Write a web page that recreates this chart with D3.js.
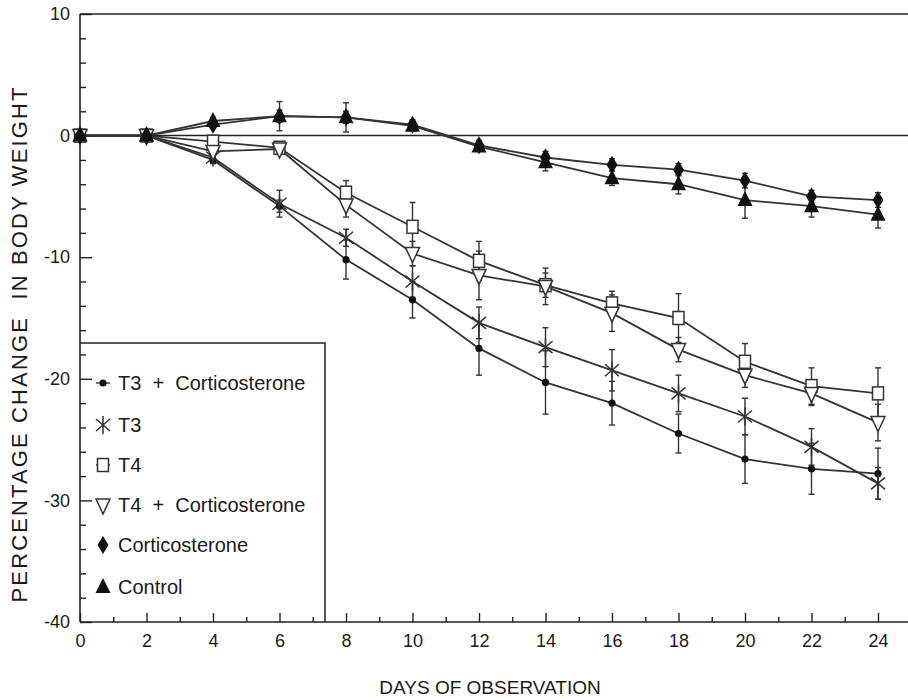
<!DOCTYPE html>
<html>
<head>
<meta charset="utf-8">
<script src="https://cdn.jsdelivr.net/npm/d3@7"></script>
<style>
  body { margin: 0; background: #fff; }
  svg { display: block; font-family: "Liberation Sans", Arial, sans-serif; }
  .axis text { font-size: 18px; fill: #1a1a1a; }
  .axis line { stroke: #222; stroke-width: 1.4; }
  .axis path { display: none; }
</style>
</head>
<body>
<svg width="908" height="699"></svg>
<script>
"use strict";

// days of observation
var days = [0, 2, 4, 6, 8, 10, 12, 14, 16, 18, 20, 22, 24];

// percentage change in body weight, per group
var t3Cort  = [0, 0, -2.0, -5.8, -10.2, -13.5, -17.5, -20.3, -22.0, -24.5, -26.6, -27.4, -27.8];
var t3      = [0, 0, -1.8, -5.6, -8.4, -12.0, -15.4, -17.4, -19.3, -21.2, -23.1, -25.6, -28.6];
var t4      = [0, 0, -0.5, -1.0, -4.7, -7.5, -10.3, -12.3, -13.8, -15.0, -18.6, -20.6, -21.2];
var t4Cort  = [0, 0, -1.3, -1.1, -5.7, -9.7, -11.5, -12.4, -14.6, -17.6, -19.7, -21.2, -23.6];
var cort    = [0, 0, 0.9, 1.6, 1.5, 0.9, -0.8, -1.8, -2.4, -2.8, -3.7, -5.0, -5.3];
var control = [0, 0, 1.2, 1.6, 1.5, 0.8, -0.9, -2.2, -3.5, -4.0, -5.3, -5.8, -6.5];

// error bars (+/-)
var t3CortErr  = [0, 0, 0.3, 0.5, 1.6, 1.5, 2.2, 2.6, 1.8, 1.6, 2.0, 2.1, 2.1];
var t3Err      = [0, 0, 0.4, 1.1, 0.7, 1.3, 1.3, 1.6, 1.7, 1.5, 1.5, 1.5, 1.3];
var t4Err      = [0, 0, 0.4, 0.3, 1.0, 2.0, 1.6, 1.0, 1.0, 2.0, 1.5, 1.5, 2.1];
var t4CortErr  = [0, 0, 0.4, 0.3, 1.0, 1.0, 2.0, 1.5, 1.5, 1.0, 1.0, 1.0, 1.5];
var cortErr    = [0, 0, 0.3, 1.2, 1.2, 0.4, 0.4, 0.5, 0.5, 0.5, 0.6, 0.5, 0.6];
var controlErr = [0, 0, 0.3, 0.5, 0.5, 0.4, 0.4, 0.7, 0.6, 0.8, 1.5, 0.9, 1.1];

var legendNames = ["T3  +  Corticosterone", "T3", "T4", "T4  +  Corticosterone", "Corticosterone", "Control"];
var yTickLabels = [10, 0, -10, -20, -30, -40];
var xTickLabels = [0, 2, 4, 6, 8, 10, 12, 14, 16, 18, 20, 22, 24];

var series = [
  {name: legendNames[0], values: t3Cort, err: t3CortErr, shape: "dot"},
  {name: legendNames[1], values: t3, err: t3Err, shape: "star"},
  {name: legendNames[2], values: t4, err: t4Err, shape: "square"},
  {name: legendNames[3], values: t4Cort, err: t4CortErr, shape: "tridown"},
  {name: legendNames[4], values: cort, err: cortErr, shape: "diamond"},
  {name: legendNames[5], values: control, err: controlErr, shape: "triup"}
];

var svg = d3.select("svg");
var ink = "#222";

var x = d3.scaleLinear().domain([0, 24]).range([80, 878]);
var y = d3.scaleLinear().domain([-40, 10]).range([622, 14]);

// frame: top line at 10, zero line, bottom axis, left axis
svg.append("line").attr("x1", 80).attr("x2", 908).attr("y1", y(10)).attr("y2", y(10))
  .attr("stroke", ink).attr("stroke-width", 1.5);
svg.append("line").attr("x1", 80).attr("x2", 908).attr("y1", y(0)).attr("y2", y(0))
  .attr("stroke", ink).attr("stroke-width", 1.5);
svg.append("line").attr("x1", 80).attr("x2", 908).attr("y1", y(-40)).attr("y2", y(-40))
  .attr("stroke", ink).attr("stroke-width", 1.6);
svg.append("line").attr("x1", x(0)).attr("x2", x(0)).attr("y1", y(10)).attr("y2", y(-40))
  .attr("stroke", ink).attr("stroke-width", 1.6);

// y axis
svg.append("g").attr("class", "axis")
  .attr("transform", "translate(" + x(0) + ",0)")
  .call(d3.axisLeft(y).tickValues(d3.range(-38, 10, 2).filter(function(d) { return d % 10 != 0; }))
    .tickSizeInner(-6).tickSizeOuter(0).tickFormat(""));
svg.append("g").attr("class", "axis")
  .attr("transform", "translate(" + x(0) + ",0)")
  .call(d3.axisLeft(y).tickValues(yTickLabels).tickSizeInner(-12).tickSizeOuter(0).tickPadding(10)
    .tickFormat(function(d) { return String(d); }));

// x axis
svg.append("g").attr("class", "axis")
  .attr("transform", "translate(0," + y(-40) + ")")
  .call(d3.axisBottom(x).tickValues(d3.range(1, 25, 2)).tickSizeInner(-5).tickSizeOuter(0).tickFormat(""));
svg.append("g").attr("class", "axis")
  .attr("transform", "translate(0," + y(-40) + ")")
  .call(d3.axisBottom(x).tickValues(xTickLabels).tickSizeInner(-9).tickSizeOuter(0).tickPadding(12)
    .tickFormat(function(d) { return String(d); }));

// axis titles
svg.append("text").text("DAYS OF OBSERVATION")
  .attr("x", 490).attr("y", 689).attr("text-anchor", "middle").attr("dominant-baseline", "middle")
  .attr("font-size", 19).attr("fill", "#1a1a1a");
svg.append("text").text("PERCENTAGE CHANGE  IN BODY WEIGHT")
  .attr("transform", "translate(27,345) rotate(-90)")
  .attr("text-anchor", "middle").attr("font-size", 22).attr("fill", "#1a1a1a")
  .attr("textLength", 515).attr("lengthAdjust", "spacing")
  .style("white-space", "pre");

function marker(g, shape, cx, cy) {
  var m = g.append("g").attr("transform", "translate(" + cx + "," + cy + ")");
  if (shape == "dot") {
    m.append("circle").attr("r", 3.6).attr("fill", "#111");
  } else if (shape == "star") {
    m.append("path").attr("d", "M-7,-6L7,6M-7,6L7,-6M0,-9L0,9")
      .attr("stroke", "#333").attr("stroke-width", 1.5).attr("fill", "none");
  } else if (shape == "square") {
    m.append("rect").attr("x", -5.5).attr("y", -6.5).attr("width", 11).attr("height", 13)
      .attr("fill", "#fff").attr("stroke", "#333").attr("stroke-width", 1.5);
  } else if (shape == "tridown") {
    m.append("path").attr("d", "M-7,-6L7,-6L0,9Z")
      .attr("fill", "#fff").attr("stroke", "#333").attr("stroke-width", 1.5);
  } else if (shape == "diamond") {
    m.append("path").attr("d", "M0,-9L5.5,0L0,9L-5.5,0Z").attr("fill", "#111");
  } else if (shape == "triup") {
    m.append("path").attr("d", "M0,-9L7.5,6L-7.5,6Z").attr("fill", "#111");
  }
  return m;
}

var plot = svg.append("g");
var line = d3.line().x(function(d) { return x(d.day); }).y(function(d) { return y(d.v); });

series.forEach(function(s) {
  var pts = days.map(function(d, i) { return {day: d, v: s.values[i], e: s.err[i]}; });
  plot.append("path").datum(pts).attr("d", line)
    .attr("fill", "none").attr("stroke", "#333").attr("stroke-width", 1.8);
});

series.forEach(function(s) {
  var pts = days.map(function(d, i) { return {day: d, v: s.values[i], e: s.err[i]}; });
  var eb = plot.append("g").selectAll("g").data(pts.filter(function(p) { return p.e > 0; }))
    .enter().append("g");
  eb.append("line")
    .attr("x1", function(p) { return x(p.day); }).attr("x2", function(p) { return x(p.day); })
    .attr("y1", function(p) { return y(p.v - p.e); }).attr("y2", function(p) { return y(p.v + p.e); })
    .attr("stroke", "#333").attr("stroke-width", 1.4);
  [-1, 1].forEach(function(k) {
    eb.append("line")
      .attr("x1", function(p) { return x(p.day) - 3; }).attr("x2", function(p) { return x(p.day) + 3; })
      .attr("y1", function(p) { return y(p.v + k * p.e); }).attr("y2", function(p) { return y(p.v + k * p.e); })
      .attr("stroke", "#333").attr("stroke-width", 1.4);
  });
});

series.forEach(function(s) {
  days.forEach(function(d, i) { marker(plot, s.shape, x(d), y(s.values[i])); });
});

// legend
var legend = svg.append("g").attr("class", "legend");
legend.append("path").attr("d", "M" + x(0) + ",343H325V" + y(-40))
  .attr("fill", "none").attr("stroke", ink).attr("stroke-width", 1.5);
var legendY = [383, 425, 465, 505, 545, 587];
series.forEach(function(s, i) {
  if (s.shape == "dot" || s.shape == "square") {
    legend.append("line").attr("x1", 96).attr("x2", 110).attr("y1", legendY[i]).attr("y2", legendY[i])
      .attr("stroke", "#333").attr("stroke-width", 1.4);
  }
  marker(legend, s.shape, 103, legendY[i]);
  legend.append("text").text(s.name)
    .attr("x", 118).attr("y", legendY[i] + 7)
    .attr("font-size", 20).attr("fill", "#1a1a1a")
    .style("white-space", "pre");
});
</script>
</body>
</html>
